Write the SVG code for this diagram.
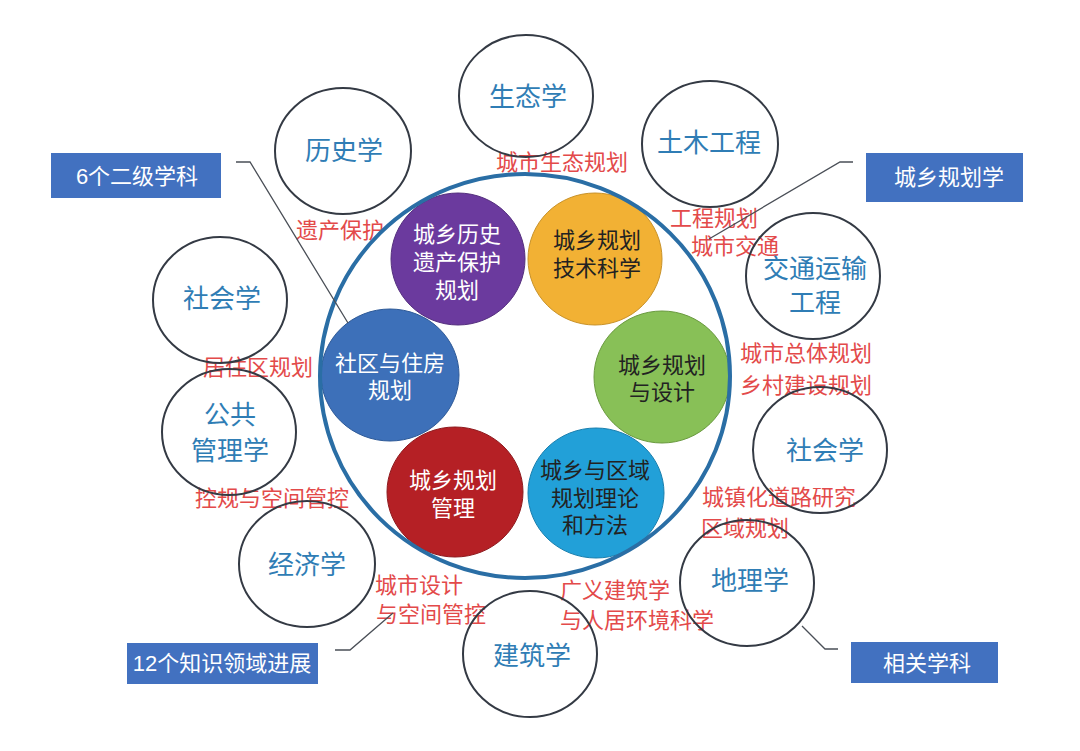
<svg xmlns="http://www.w3.org/2000/svg" width="1080" height="751" viewBox="0 0 1080 751">
<style>
text{font-family:"Liberation Sans","Noto Sans CJK SC",sans-serif;text-anchor:middle}
.outer{fill:none;stroke:#343a44;stroke-width:2}
.otxt{font-size:26px;fill:#2f7db5}
.red{font-size:22px;fill:#e34a4a}
.redl{font-size:22px;fill:#e34a4a;text-anchor:start}
.itxt{font-size:22px}
.w{fill:#ffffff}
.d{fill:#222222}
.box{fill:#4271c0}
.btxt{font-size:22px;fill:#ffffff}
.lead{fill:none;stroke:#4a4f57;stroke-width:1.3}
</style>
<rect width="1080" height="751" fill="#ffffff"/>

<g id="labels">
<text class="red" x="562" y="170">城市生态规划</text>
<text class="red" x="340" y="238">遗产保护</text>
<text class="red" x="714" y="226">工程规划</text>
<text class="red" x="735" y="254">城市交通</text>
<text class="red" x="258" y="375">居住区规划</text>
<text class="red" x="272" y="506">控规与空间管控</text>
<text class="red" x="806" y="361">城市总体规划</text>
<text class="red" x="806" y="393">乡村建设规划</text>
<text class="redl" x="702" y="505">城镇化道路研究</text>
<text class="redl" x="701" y="536">区域规划</text>
<text class="redl" x="375" y="593">城市设计</text>
<text class="redl" x="376" y="622">与空间管控</text>
<text class="redl" x="560" y="598">广义建筑学</text>
<text class="redl" x="560" y="628">与人居环境科学</text>
</g>

<g id="inner-purple">
<ellipse cx="458" cy="259" rx="67" ry="66" fill="#6b3a9e" stroke="#55307e" stroke-width="1"/>
<text class="itxt w" x="457" y="242">城乡历史</text>
<text class="itxt w" x="457" y="270">遗产保护</text>
<text class="itxt w" x="457" y="298">规划</text>
</g>
<g id="inner-orange">
<ellipse cx="595" cy="259" rx="67" ry="66" fill="#f2b134" stroke="#c8922a" stroke-width="1"/>
<text class="itxt d" x="597" y="248">城乡规划</text>
<text class="itxt d" x="597" y="276">技术科学</text>
</g>
<g id="inner-green">
<ellipse cx="662" cy="377" rx="68" ry="66" fill="#88c057" stroke="#6a9a40" stroke-width="1"/>
<text class="itxt d" x="662" y="373">城乡规划</text>
<text class="itxt d" x="662" y="400">与设计</text>
</g>
<g id="inner-cyan">
<ellipse cx="596" cy="493" rx="68" ry="65" fill="#22a0d8" stroke="#1a7fae" stroke-width="1"/>
<text class="itxt d" x="595" y="478">城乡与区域</text>
<text class="itxt d" x="595" y="506">规划理论</text>
<text class="itxt d" x="595" y="533">和方法</text>
</g>
<g id="inner-red">
<ellipse cx="455" cy="492" rx="68" ry="65" fill="#b52025" stroke="#8e1a1e" stroke-width="1"/>
<text class="itxt w" x="453" y="488">城乡规划</text>
<text class="itxt w" x="453" y="516">管理</text>
</g>
<g id="inner-blue">
<ellipse cx="390" cy="375" rx="69" ry="66" fill="#3d70b9" stroke="#2e5a98" stroke-width="1"/>
<text class="itxt w" x="390" y="371">社区与住房</text>
<text class="itxt w" x="390" y="398">规划</text>
</g>

<g id="ring">
<ellipse cx="525" cy="376" rx="205" ry="202" fill="none" stroke="#2a6ea5" stroke-width="4"/>
</g>

<g id="outer-shengtai"><ellipse class="outer" cx="526" cy="96" rx="67" ry="61"/><text class="otxt" x="528" y="106">生态学</text></g>
<g id="outer-lishi"><ellipse class="outer" cx="343" cy="151" rx="68" ry="63"/><text class="otxt" x="344" y="160">历史学</text></g>
<g id="outer-tumu"><ellipse class="outer" cx="710" cy="144" rx="68" ry="63"/><text class="otxt" x="709" y="152">土木工程</text></g>
<g id="outer-shehui-left"><ellipse class="outer" cx="220" cy="300" rx="67" ry="63"/><text class="otxt" x="222" y="308">社会学</text></g>
<g id="outer-jiaotong"><ellipse class="outer" cx="813" cy="276" rx="67" ry="63"/><text class="otxt" x="815" y="278">交通运输</text><text class="otxt" x="815" y="312">工程</text></g>
<g id="outer-gonggong"><ellipse class="outer" cx="229" cy="432" rx="67" ry="63"/><text class="otxt" x="230" y="424">公共</text><text class="otxt" x="230" y="460">管理学</text></g>
<g id="outer-jingji"><ellipse class="outer" cx="307" cy="564" rx="68" ry="63"/><text class="otxt" x="307" y="574">经济学</text></g>
<g id="outer-jianzhu"><ellipse class="outer" cx="530" cy="654" rx="67" ry="63"/><text class="otxt" x="532" y="665">建筑学</text></g>
<g id="outer-shehui-right"><ellipse class="outer" cx="820" cy="450" rx="67" ry="63"/><text class="otxt" x="825" y="460">社会学</text></g>
<g id="outer-dili"><ellipse class="outer" cx="747" cy="583" rx="67" ry="63"/><text class="otxt" x="750" y="590">地理学</text></g>

<g id="connectors">
<polyline class="lead" points="236,162 250,162 348,323"/>
<polyline class="lead" points="853,162 840,162 709,239"/>
<polyline class="lead" points="335,650 350,650 393,613"/>
<polyline class="lead" points="838,649 825,649 802,626"/>
</g>

<g id="box-erji"><rect class="box" x="51" y="153" width="170" height="45"/><text class="btxt" x="137" y="184">6个二级学科</text></g>
<g id="box-xueke"><rect class="box" x="866" y="153" width="157" height="49"/><text class="btxt" x="949" y="185">城乡规划学</text></g>
<g id="box-zhishi"><rect class="box" x="127" y="643" width="191" height="41"/><text class="btxt" x="222" y="671">12个知识领域进展</text></g>
<g id="box-xiangguan"><rect class="box" x="851" y="642" width="147" height="41"/><text class="btxt" x="927" y="671">相关学科</text></g>
</svg>
